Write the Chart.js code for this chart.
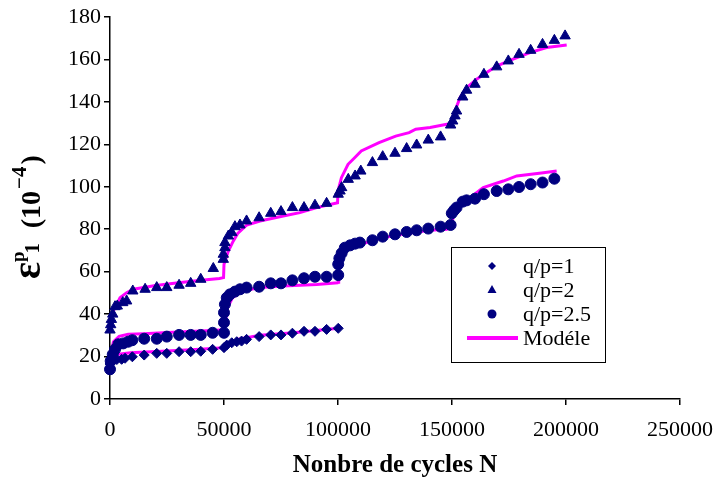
<!DOCTYPE html>
<html>
<head>
<meta charset="utf-8">
<script src="https://cdn.jsdelivr.net/npm/chart.js@4.4.0/dist/chart.umd.min.js"></script>
<style>
  html, body { margin:0; padding:0; background:#fff; }
  #wrap { width:715px; height:481px; }
</style>
</head>
<body>
<div id="wrap"><canvas id="c" width="715" height="481"></canvas></div>
<script>
// Axes
const xTicks = [0, 50000, 100000, 150000, 200000, 250000];
const yTicks = [0, 20, 40, 60, 80, 100, 120, 140, 160, 180];
const seriesNames = ['q/p=1', 'q/p=2', 'q/p=2.5', 'Modéle'];

// q/p=1 (losanges)
const nQ1 = [0, 500, 1500, 3000, 5100, 6600, 9800, 15000, 20500, 24900, 30300, 35400, 39800, 45000, 50000, 51200, 53400, 55600, 57700, 59900, 65400, 70500, 75000, 80000, 85100, 89900, 95000, 100100];
const vQ1 = [16.5, 17.5, 18.2, 18.6, 18.7, 19.2, 19.9, 20.7, 21.5, 21.5, 22.3, 22.3, 22.5, 23.4, 24.2, 25.4, 26.5, 27, 27.3, 28.1, 29.4, 30.2, 30.2, 31, 31.9, 31.9, 32.8, 33.3];

// q/p=2 (triangles)
const nQ2 = [0, 300, 600, 1200, 2200, 3200, 5600, 7300, 10000, 15400, 20500, 24900, 30300, 35400, 39800, 45300, 49700, 49700, 50400, 50400, 51900, 53400, 54800, 57000, 59900, 65400, 70500, 75000, 80000, 85100, 89900, 95000, 100100, 100900, 101600, 104500, 107500, 110000, 115100, 119600, 125000, 130100, 134500, 139600, 145000, 149400, 150300, 151300, 152000, 154700, 156400, 160100, 164000, 169600, 174700, 179400, 184500, 189700, 194900, 199600];
const vQ2 = [32.5, 35, 37.5, 40, 43.5, 43.8, 45.4, 46.2, 50.9, 51.7, 52.5, 52.5, 53.6, 54.5, 56.4, 61.5, 65.8, 68.2, 71.3, 73.7, 76.8, 78.4, 81.2, 82, 83.9, 85.4, 87.5, 88.3, 90.2, 90.2, 91.3, 92.2, 96.5, 98, 99.6, 103.5, 105.1, 107.4, 111.4, 114.2, 115.8, 118, 119.7, 122, 123.5, 129.1, 131, 133.4, 135.7, 142.3, 145.5, 148.3, 153, 156.5, 159.3, 162.4, 164.3, 167.1, 169, 171.1];

// q/p=2.5 (cercles)
const nQ25 = [0, 300, 1200, 2200, 3700, 5800, 8000, 9800, 15000, 20500, 24900, 30300, 35400, 39800, 45000, 50000, 50000, 50000, 50400, 51200, 52600, 54800, 57000, 59900, 65400, 70500, 75000, 80000, 85100, 89900, 95000, 100100, 100100, 100600, 101600, 103000, 105300, 107500, 109600, 115100, 119600, 125000, 130100, 134500, 139600, 145000, 149400, 149900, 150900, 152000, 154700, 156400, 160100, 164000, 169600, 174700, 179400, 184500, 189700, 194900];
const vQ25 = [14, 17.9, 21, 23.4, 25.8, 26.2, 27, 27.7, 28.4, 28.4, 29.4, 30.2, 30.2, 30.2, 31.2, 31.2, 36, 40.7, 44.6, 47.7, 49.3, 50.6, 51.7, 52.5, 52.9, 54.5, 54.5, 55.9, 56.9, 57.6, 57.6, 58.4, 63.5, 66.3, 68.7, 71.3, 72.4, 73.2, 73.7, 74.8, 76.5, 77.6, 78.7, 79.5, 80.3, 81.2, 82, 87.5, 88.9, 90.2, 93, 93.6, 94.4, 96.5, 98, 98.8, 99.9, 101.2, 102, 103.8];

// Modele
const nMod1 = [0, 1000, 2900, 9000, 24900, 39500, 49800, 50000, 51400, 55800, 65800, 80400, 100100];
const vMod1 = [16, 19, 21, 21.8, 22.6, 23.4, 24.2, 24.5, 25.8, 28.1, 30, 31.2, 33.3];
const nMod2 = [0, 750, 2200, 4400, 7300, 10200, 20000, 30000, 40000, 48000, 49800, 50000, 50500, 51900, 54100, 56000, 60000, 65800, 76000, 83300, 90700, 99800, 100000, 101500, 104400, 107300, 110200, 118000, 125300, 131200, 134100, 140400, 147700, 149800, 150200, 151300, 153500, 156400, 160800, 165200, 169600, 175400, 184200, 191500, 200300];
const vMod2 = [33, 40, 43, 47.7, 50.1, 51.7, 53.5, 54.8, 56, 56.8, 57.2, 63.5, 65, 69.7, 74.5, 78, 82, 83.9, 86.2, 87.8, 90.2, 92.5, 98, 104.3, 110.6, 113.7, 116.9, 120.8, 123.9, 125.5, 127.1, 127.9, 129.5, 129.8, 131, 135.7, 142, 146.7, 150.7, 153.8, 156.9, 159.6, 163.2, 165.6, 166.8];
const nMod25 = [0, 500, 1500, 4000, 8000, 15000, 25000, 35000, 45000, 49800, 50000, 50700, 51500, 53700, 58000, 65800, 76000, 90700, 99800, 100000, 100300, 101000, 102300, 104400, 107800, 112400, 118400, 125700, 133000, 140400, 147700, 149900, 150500, 152700, 157900, 163700, 172500, 178400, 190100, 195900];
const vMod25 = [17, 22, 27, 29.5, 30.5, 30.8, 31.3, 31.8, 32.3, 32.6, 33, 37, 43, 47.7, 50.9, 52.5, 53.3, 54, 54.8, 55, 60.3, 65, 68.2, 70.5, 72.1, 73.7, 75.7, 77.3, 78.4, 79.5, 80, 81.5, 86.2, 90.2, 94.9, 99.6, 102.7, 105.1, 106.6, 107.4];

const NAVY = '#000080';
const PINK = '#ff00ff';
const FONT = '"Liberation Serif", "Times New Roman", serif';

const pts = (ns, vs) => ns.map((n, i) => ({ x: n, y: vs[i] }));

function markerSet(label, ns, vs, style, r) {
  return { label, data: pts(ns, vs), showLine: false, pointStyle: style, pointRadius: r,
    backgroundColor: NAVY, borderColor: NAVY, borderWidth: 1, order: 1, clip: false };
}
function modelSet(ns, vs) {
  return { label: seriesNames[3], data: pts(ns, vs), showLine: true, pointRadius: 0,
    borderColor: PINK, borderWidth: 3, tension: 0, order: 5, clip: false };
}

// petit dessin des symboles (legende)
function shape(ctx, style, x, y, r) {
  ctx.beginPath();
  if (style === 'rectRot') {
    ctx.moveTo(x - r, y); ctx.lineTo(x, y - r); ctx.lineTo(x + r, y); ctx.lineTo(x, y + r);
  } else if (style === 'triangle') {
    ctx.moveTo(x, y - r); ctx.lineTo(x + r * 0.9, y + r * 0.6); ctx.lineTo(x - r * 0.9, y + r * 0.6);
  } else {
    ctx.arc(x, y, r, 0, Math.PI * 2);
  }
  ctx.closePath();
  ctx.fill();
}

const boxLegend = {
  id: 'boxLegend',
  afterDraw(chart) {
    const ctx = chart.ctx, a = chart.chartArea;
    const bx = a.left + 341, by = a.top + 230, bw = 154, bh = 115;
    ctx.save();
    ctx.fillStyle = '#fff';
    ctx.fillRect(bx, by, bw, bh);
    ctx.strokeStyle = '#000'; ctx.lineWidth = 1;
    ctx.strokeRect(bx + 0.5, by + 0.5, bw, bh);
    const styles = ['rectRot', 'triangle', 'circle'];
    const sizes = [4, 5, 4.5];
    ctx.font = '22px ' + FONT;
    ctx.textBaseline = 'middle';
    for (let i = 0; i < 4; i++) {
      const y = by + 19 + i * 24;
      if (i < 3) {
        ctx.fillStyle = NAVY;
        shape(ctx, styles[i], bx + 41, y, sizes[i]);
      } else {
        ctx.strokeStyle = PINK; ctx.lineWidth = 4;
        ctx.beginPath(); ctx.moveTo(bx + 16, y); ctx.lineTo(bx + 67, y); ctx.stroke();
      }
      ctx.fillStyle = '#000';
      ctx.fillText(seriesNames[i], bx + 72, y + 1);
    }
    ctx.restore();
  }
};

// titre de l'axe y avec exposants / indices
const yTitle = {
  id: 'yTitle',
  afterDraw(chart) {
    const ctx = chart.ctx;
    ctx.save();
    ctx.translate(40, 279);
    ctx.rotate(-Math.PI / 2);
    ctx.fillStyle = '#000';
    ctx.textBaseline = 'alphabetic';
    let x = 0;
    const part = (t, size, dy) => {
      ctx.font = 'bold ' + size + 'px ' + FONT;
      ctx.fillText(t, x, dy);
      x += ctx.measureText(t).width;
    };
    part('ε', 40, 0);
    part('p', 19, -16);
    x -= 2;
    part('1', 20, -1);
    x += 8;
    part(' (10', 28, 0);
    x += 2;
    part('−4', 21, -14);
    x += 2;
    part(')', 28, 0);
    ctx.restore();
  }
};

new Chart(document.getElementById('c'), {
  type: 'scatter',
  data: {
    datasets: [
      markerSet(seriesNames[0], nQ1, vQ1, 'rectRot', 5),
      markerSet(seriesNames[1], nQ2, vQ2, 'triangle', 6),
      markerSet(seriesNames[2], nQ25, vQ25, 'circle', 5.5),
      modelSet(nMod1, vMod1),
      modelSet(nMod2, vMod2),
      modelSet(nMod25, vMod25)
    ]
  },
  options: {
    responsive: false,
    devicePixelRatio: 1,
    animation: false,
    layout: { padding: { left: 0, right: 35, top: 17, bottom: 0 } },
    plugins: { legend: { display: false }, tooltip: { enabled: false } },
    scales: {
      x: {
        type: 'linear', min: 0, max: 250000,
        afterBuildTicks: s => { s.ticks = xTicks.map(v => ({ value: v })); },
        afterFit: s => { s.height = 82; s.paddingLeft = 0; s.paddingRight = 0; },
        ticks: { font: { family: FONT, size: 22 }, color: '#000', padding: 12, maxRotation: 0, autoSkip: false, callback: v => String(v) },
        grid: { drawOnChartArea: false, drawTicks: true, tickLength: 6, color: '#000', lineWidth: 1.5 },
        border: { display: true, color: '#000', width: 1.5 },
        title: { display: true, text: 'Nonbre de cycles N', color: '#000', font: { family: FONT, size: 25, weight: 'bold' }, padding: { top: 0, bottom: 0 } }
      },
      y: {
        type: 'linear', min: 0, max: 180,
        afterBuildTicks: s => { s.ticks = yTicks.map(v => ({ value: v })); },
        afterFit: s => { s.width = 110; },
        ticks: { font: { family: FONT, size: 22 }, color: '#000', padding: 3, autoSkip: false, callback: v => String(v) },
        grid: { drawOnChartArea: false, drawTicks: true, tickLength: 6, color: '#000', lineWidth: 1.5 },
        border: { display: true, color: '#000', width: 1.5 }
      }
    }
  },
  plugins: [boxLegend, yTitle]
});
</script>
</body>
</html>
